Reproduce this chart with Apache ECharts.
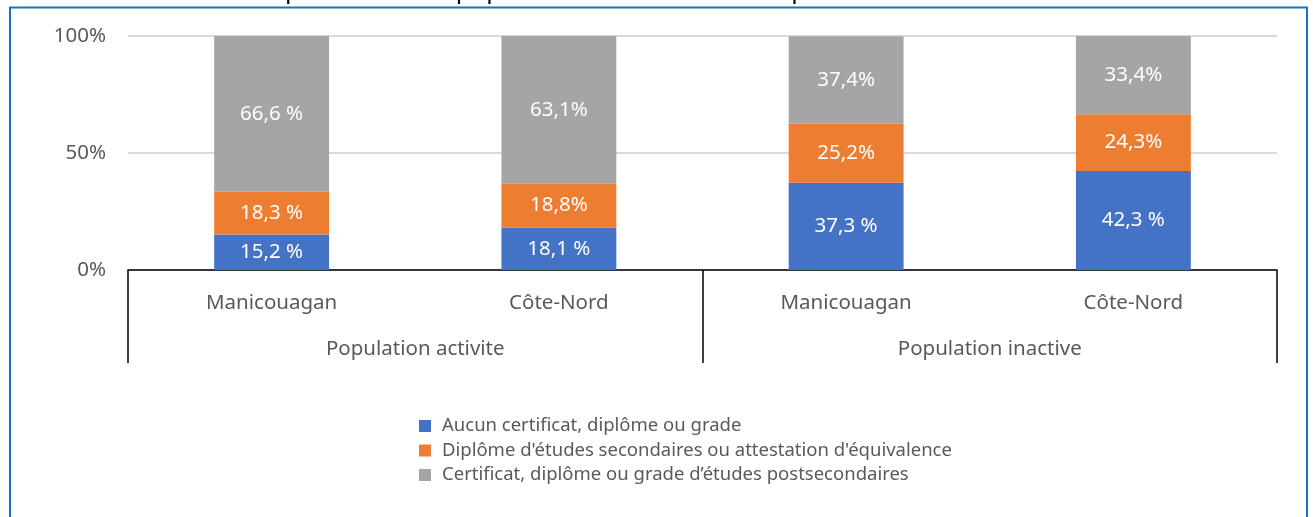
<!DOCTYPE html>
<html>
<head>
<meta charset="utf-8">
<script src="https://cdn.jsdelivr.net/npm/echarts@6/dist/echarts.min.js"></script>
<style>
  html, body { margin: 0; padding: 0; background: #ffffff; }
  #chart { width: 1313px; height: 517px; }
</style>
</head>
<body>
<div id="chart"></div>
<script>
// regions et groupes de population
const regions = ['Manicouagan', 'Côte-Nord', 'Manicouagan', 'Côte-Nord']
const groups = ['Population activite', 'Population inactive']
const seriesNames = [
  'Aucun certificat, diplôme ou grade',
  "Diplôme d'études secondaires ou attestation d'équivalence",
  'Certificat, diplôme ou grade d’études postsecondaires',
]
const aucun = [15.2, 18.1, 37.3, 42.3]
const secondaire = [18.3, 18.8, 25.2, 24.3]
const postsec = [66.6, 63.1, 37.4, 33.4]
const aucunLabels = ['15,2 %', '18,1 %', '37,3 %', '42,3 %']
const secondaireLabels = ['18,3 %', '18,8%', '25,2%', '24,3%']
const postsecLabels = ['66,6 %', '63,1%', '37,4%', '33,4%']
const yTicks = [0, 50, 100]
const colors = ['#4472c4', '#ed7d31', '#a5a5a5']

const font = 'Noto Sans'
const chart = echarts.init(document.getElementById('chart'))

const makeSeries = (name, values, labels) => ({
  name,
  type: 'bar',
  stack: 'total',
  barWidth: '40%',
  data: values,
  label: {
    show: true,
    position: 'inside',
    color: '#ffffff',
    fontFamily: font,
    fontSize: 20.5,
    formatter: (p) => labels[p.dataIndex],
  },
})

chart.setOption({
  color: colors,
  animation: false,
  title: {
    text: 'Répartition de la population active et inactive par niveau de scolarité',
    left: 'center',
    top: -27,
    textStyle: { fontFamily: font, fontSize: 25, fontWeight: 'normal', color: '#000000' },
  },
  graphic: [{
    type: 'rect',
    shape: { x: 10, y: 7.5, width: 1297, height: 560 },
    style: { fill: 'none', stroke: '#1473c6', lineWidth: 2 },
    z: 100,
  }],
  grid: { left: 128, right: 36, top: 36, bottom: 247 },
  legend: {
    orient: 'vertical',
    left: 414,
    top: 411,
    icon: 'rect',
    itemWidth: 12,
    itemHeight: 12,
    itemGap: 4.5,
    textStyle: { fontFamily: font, fontSize: 18.5, color: '#595959', lineHeight: 20, padding: [0, 0, 0, 6] },
    data: seriesNames,
  },
  xAxis: [
    {
      type: 'category',
      data: regions,
      axisLine: { show: false },
      axisTick: { show: false },
      axisLabel: { margin: 23, fontFamily: font, fontSize: 20.5, color: '#595959' },
    },
    {
      type: 'category',
      data: groups,
      position: 'bottom',
      axisLine: { show: true, lineStyle: { color: '#000000', width: 1.5 } },
      axisTick: { show: true, length: 93, lineStyle: { color: '#000000', width: 1.5 } },
      axisLabel: { margin: 69, fontFamily: font, fontSize: 20.5, color: '#595959' },
    },
  ],
  yAxis: {
    type: 'value',
    min: yTicks[0],
    max: yTicks[yTicks.length - 1],
    interval: yTicks[1] - yTicks[0],
    axisLine: { show: false },
    axisTick: { show: false },
    splitLine: { lineStyle: { color: '#d9d9d9', width: 2 } },
    axisLabel: { margin: 22, fontFamily: font, fontSize: 20.5, color: '#595959', formatter: '{value}%' },
  },
  series: [
    makeSeries(seriesNames[0], aucun, aucunLabels),
    makeSeries(seriesNames[1], secondaire, secondaireLabels),
    makeSeries(seriesNames[2], postsec, postsecLabels),
  ],
})
</script>
</body>
</html>
